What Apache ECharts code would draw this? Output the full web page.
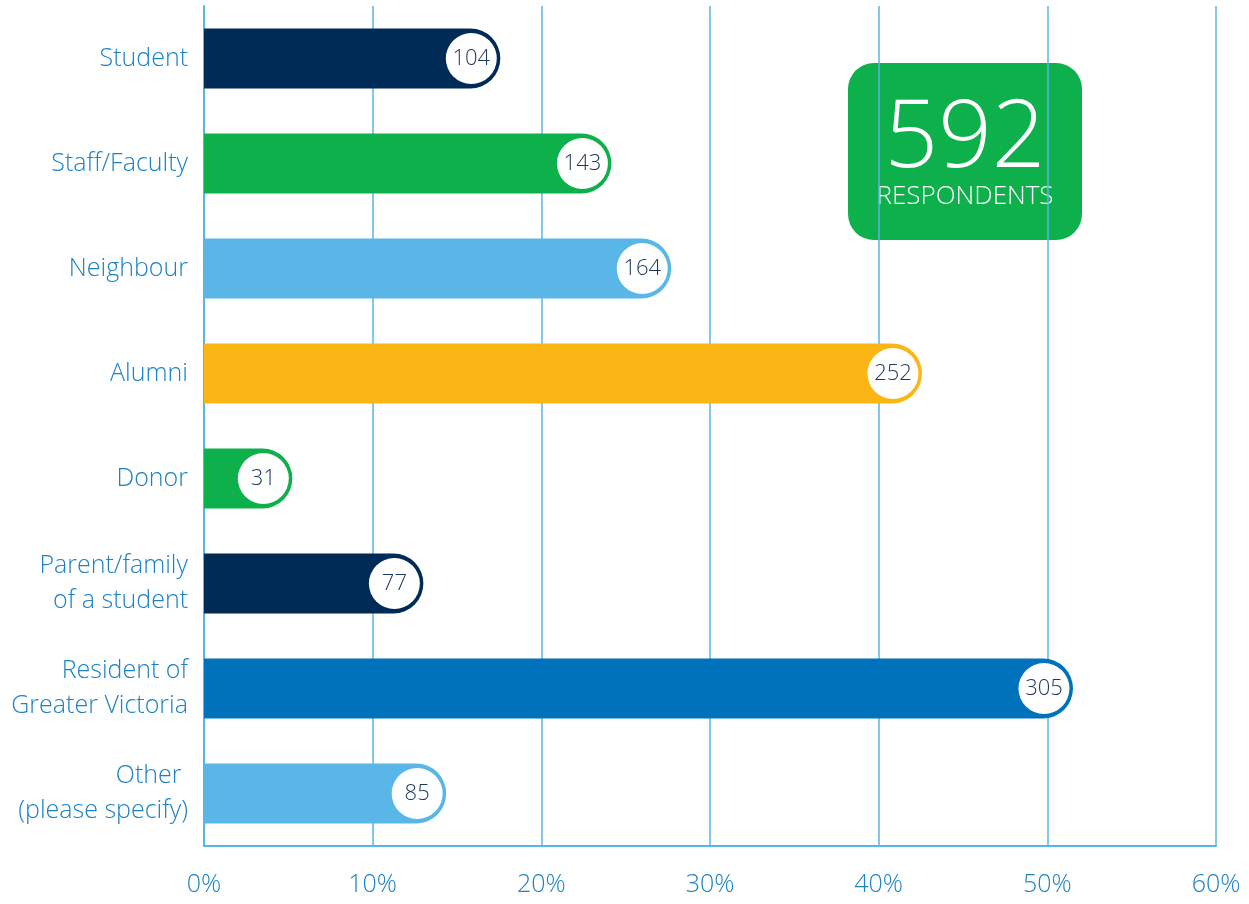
<!DOCTYPE html>
<html>
<head>
<meta charset="utf-8">
<style>
  html, body { margin: 0; padding: 0; background: #fff; }
  #chart { width: 1249px; height: 904px; }
</style>
<script src="https://cdn.jsdelivr.net/npm/echarts@6/dist/echarts.min.js"></script>
</head>
<body>
<div id="chart"></div>
<script>
const categories = [
  "Student",
  "Staff/Faculty",
  "Neighbour",
  "Alumni",
  "Donor",
  "Parent/family\nof a student",
  "Resident of\nGreater Victoria",
  "Other \n(please specify)",
];
const counts = [104, 143, 164, 252, 31, 77, 305, 85];
const totalRespondents = 592;
const barColors = ["#002b57", "#0db04b", "#5ab6e6", "#fbb615", "#0db04b", "#002b57", "#0072bb", "#5ab6e6"];
const xTicks = [0, 10, 20, 30, 40, 50, 60];

const percents = counts.map((c) => (c / totalRespondents) * 100);
const lineBlue = "#5ab4e4";
const textBlue = "#1b82c6";
const font = "'Open Sans', 'Noto Sans', sans-serif";

const chart = echarts.init(document.getElementById("chart"));

chart.setOption({
  animation: false,
  grid: { left: 204, right: 33, top: 6, bottom: 58, containLabel: false },
  xAxis: {
    type: "value",
    min: xTicks[0],
    max: xTicks[xTicks.length - 1],
    interval: 10,
    axisLine: { show: true, lineStyle: { color: lineBlue, width: 2 } },
    axisTick: { show: false },
    splitLine: { show: true, lineStyle: { color: lineBlue, width: 1.5 } },
    axisLabel: {
      color: textBlue,
      fontSize: 25,
      fontFamily: font,
      fontWeight: 300,
      margin: 26,
      formatter: "{value}%",
    },
  },
  yAxis: {
    type: "category",
    inverse: true,
    data: categories,
    axisLine: { show: true, lineStyle: { color: lineBlue, width: 2 } },
    axisTick: { show: false },
    axisLabel: {
      color: textBlue,
      fontSize: 25,
      fontFamily: font,
      fontWeight: 300,
      lineHeight: 35,
      margin: 16,
    },
  },
  series: [
    {
      type: "bar",
      barWidth: 60,
      data: percents.map((v, i) => ({
        value: v,
        itemStyle: { color: barColors[i], borderRadius: [0, 30, 30, 0] },
      })),
      z: 2,
    },
    {
      type: "scatter",
      symbol: "circle",
      symbolSize: 51,
      symbolOffset: [-29, 0],
      data: percents.map((v, i) => ({ value: [v, i], count: counts[i] })),
      itemStyle: { color: "#ffffff", opacity: 1 },
      label: {
        show: true,
        position: "inside",
        color: "#1f3a60",
        fontSize: 22,
        fontWeight: 300,
        fontFamily: font,
        formatter: (p) => String(counts[p.dataIndex]),
      },
      z: 3,
    },
  ],
  graphic: [
    {
      type: "group",
      left: 848,
      top: 63,
      children: [
        {
          type: "rect",
          shape: { x: 0, y: 0, width: 234, height: 177, r: 26 },
          style: { fill: "#0db04b" },
        },
        {
          type: "text",
          x: 117,
          y: 77,
          style: {
            text: String(totalRespondents),
            fill: "#ffffff",
            font: "200 94px " + font,
            textAlign: "center",
            textVerticalAlign: "middle",
          },
        },
        {
          type: "text",
          x: 117,
          y: 134,
          style: {
            text: "RESPONDENTS",
            fill: "#ffffff",
            font: "300 26px " + font,
            textAlign: "center",
            textVerticalAlign: "middle",
          },
        },
      ],
    },
  ],
});
</script>
</body>
</html>
